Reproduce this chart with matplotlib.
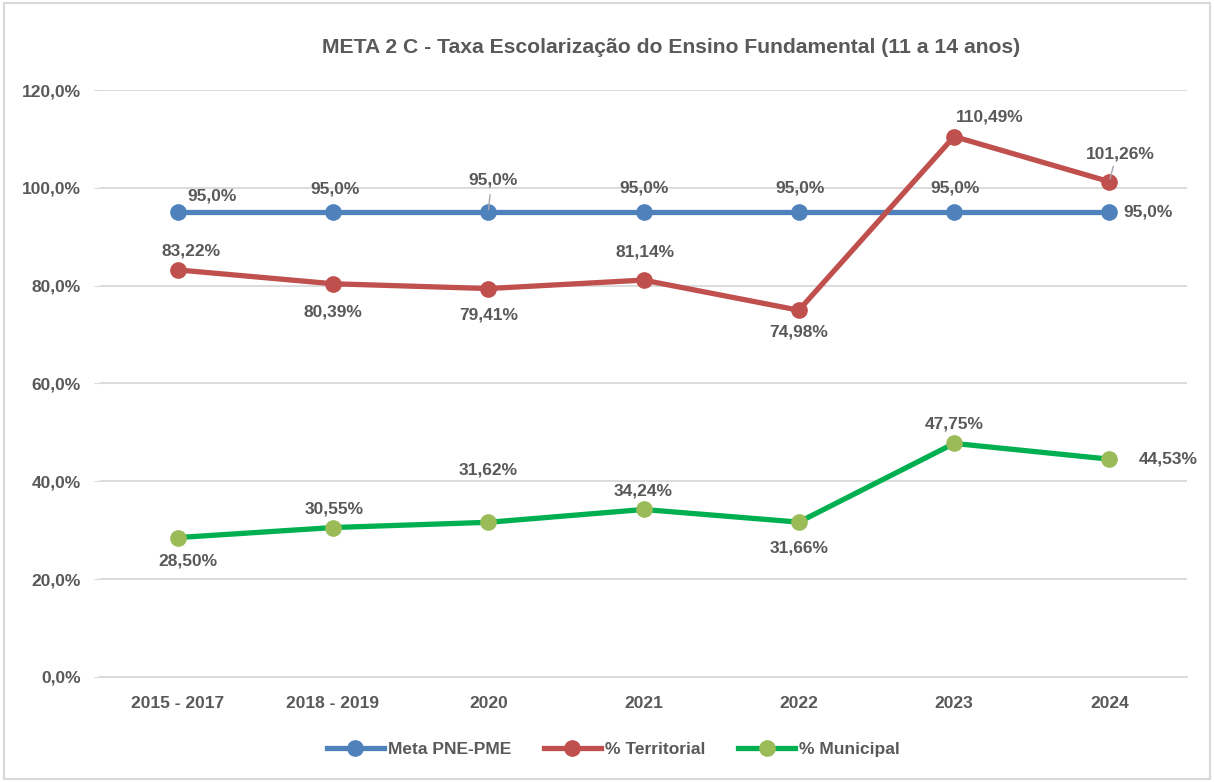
import matplotlib
matplotlib.use("Agg")
import matplotlib.pyplot as plt
from matplotlib.patches import Rectangle
from matplotlib.lines import Line2D

plt.rcParams['font.family'] = ['Liberation Sans', 'DejaVu Sans']
plt.rcParams['font.weight'] = 'bold'

# data
categories = ['2015 - 2017', '2018 - 2019', '2020', '2021', '2022', '2023', '2024']
meta = [95.0, 95.0, 95.0, 95.0, 95.0, 95.0, 95.0]
territorial = [83.22, 80.39, 79.41, 81.14, 74.98, 110.49, 101.26]
municipal = [28.50, 30.55, 31.62, 34.24, 31.66, 47.75, 44.53]
meta_labels = ['95,0%'] * 7
territorial_labels = ['83,22%', '80,39%', '79,41%', '81,14%', '74,98%', '110,49%', '101,26%']
municipal_labels = ['28,50%', '30,55%', '31,62%', '34,24%', '31,66%', '47,75%', '44,53%']
yticks = [0, 20, 40, 60, 80, 100, 120]
ytick_labels = ['0,0%', '20,0%', '40,0%', '60,0%', '80,0%', '100,0%', '120,0%']

c_blue = '#4f81bd'
c_red = '#c0504d'
c_green = '#00b050'
c_green_m = '#9bbb59'
c_text = '#595959'

fig = plt.figure(figsize=(12.14, 7.82), dpi=100)
ax = fig.add_axes([0.0824, 0.1343, 0.8954, 0.7506])

x = list(range(len(categories)))
ax.plot(x, meta, color=c_blue, lw=3.8, marker='o', ms=11, mfc=c_blue, mec=c_blue, zorder=3)
ax.plot(x, territorial, color=c_red, lw=3.8, marker='o', ms=11, mfc=c_red, mec=c_red, zorder=3)
ax.plot(x, municipal, color=c_green, lw=3.8, marker='o', ms=11, mfc=c_green_m, mec=c_green_m, zorder=3)

ax.set_xlim(-0.5, 6.5)
ax.set_ylim(0, 120)
ax.set_yticks(yticks)
ax.set_yticklabels(ytick_labels)
ax.set_xticks(x)
ax.set_xticklabels(categories)
ax.grid(axis='y', color='#d9d9d9', lw=1.3)
ax.set_axisbelow(True)
for s in ['top', 'right', 'left']:
    ax.spines[s].set_visible(False)
ax.spines['bottom'].set_color('#d9d9d9')
ax.spines['bottom'].set_linewidth(1.3)
ax.tick_params(axis='y', length=4, color='#d9d9d9', labelsize=12.5, labelcolor=c_text, pad=10)
ax.tick_params(axis='x', length=0, labelsize=12.5, labelcolor=c_text, pad=14)

# label offsets (pixels)
meta_off = [(34, 16), (2, 23), (5, 32), (1, 24), (1, 24), (1, 24), (36, 0)]
terr_off = [(13, 19), (0, -28), (0, -26), (2, 28), (0, -22), (36, 20), (11, 28)]
mun_off = [(10, -23), (1, 19), (0, 52), (0, 18), (0, -26), (0, 19), (51, 0)]

def label(vals, texts, offs, leaders=()):
    for i, (v, t, o) in enumerate(zip(vals, texts, offs)):
        ha = 'left' if (i == 6 and o[1] == 0) else 'center'
        dx = o[0] - 22 if ha == 'left' else o[0]
        ax.annotate(t, (i, v), xytext=(dx, o[1]), textcoords='offset pixels',
                    ha=ha, va='center', fontsize=12.5, color=c_text, fontweight='bold')
        if i in leaders:
            ax.annotate('', (i, v), xytext=(o[0] * 0.35, o[1] * 0.55), textcoords='offset pixels',
                        arrowprops=dict(arrowstyle='-', color='#a6a6a6', lw=1, shrinkA=0, shrinkB=2))

label(meta, meta_labels, meta_off, leaders=(2,))
label(territorial, territorial_labels, terr_off, leaders=(6,))
label(municipal, municipal_labels, mun_off)

fig.text(0.553, 0.939, 'META 2 C - Taxa Escolarização do Ensino Fundamental (11 a 14 anos)',
         ha='center', va='center', fontsize=15.2, color=c_text, fontweight='bold')

handles = [
    Line2D([], [], color=c_blue, lw=3.8, marker='o', ms=11, mfc=c_blue, mec=c_blue),
    Line2D([], [], color=c_red, lw=3.8, marker='o', ms=11, mfc=c_red, mec=c_red),
    Line2D([], [], color=c_green, lw=3.8, marker='o', ms=11, mfc=c_green_m, mec=c_green_m),
]
leg = fig.legend(handles, ['Meta PNE-PME', '% Territorial', '% Municipal'],
                 loc='center', bbox_to_anchor=(0.505, 0.042), ncol=3, frameon=False,
                 fontsize=12.5, handlelength=3.3, handletextpad=0.2, columnspacing=1.9)
for t in leg.get_texts():
    t.set_color(c_text)

fig.patches.append(Rectangle((0.003, 0.004), 0.994, 0.992, transform=fig.transFigure,
                             fill=False, edgecolor='#d9d9d9', lw=1.5))

fig.savefig('out.png', dpi=100)
